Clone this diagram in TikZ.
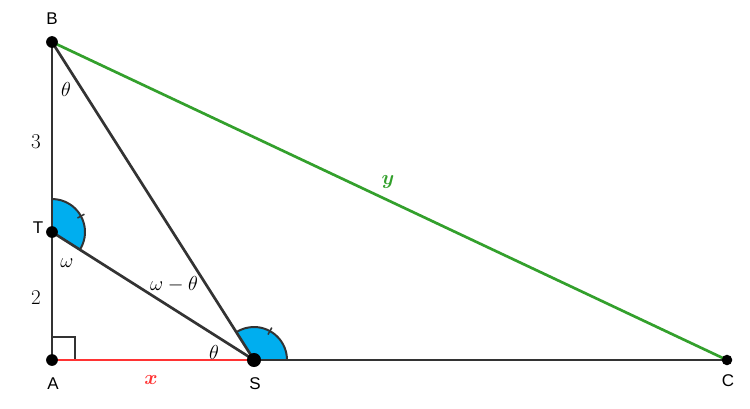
\documentclass[tikz,border=0pt]{standalone}
\usepackage{fontspec}
\newfontfamily\lab{Liberation Sans}
\usepackage{amsmath}
\definecolor{gline}{HTML}{333333}
\definecolor{ggreen}{HTML}{33A02C}
\definecolor{gred}{HTML}{FF3333}
\definecolor{gblue}{HTML}{00AEEF}
\begin{document}
\begin{tikzpicture}[x=0.03cm,y=-0.03cm,
  seg/.style={draw=gline,line width=2.3pt},
  dot/.style={circle,fill=black,inner sep=0pt,minimum size=10pt},
  ptlabel/.style={font=\lab\fontsize{14.5}{17}\selectfont,text=black},
  mlabel/.style={font=\fontsize{18}{20}\selectfont}]
\useasboundingbox (0,0) rectangle (750,408);
\coordinate (A) at (52,360);
\coordinate (T) at (52,232);
\coordinate (B) at (52,42);
\coordinate (S) at (254,360);
\coordinate (C) at (727,360);
% angle fills (y axis flipped: angles negated)
\fill[gblue] (T) -- ++(32.36:33) arc[start angle=32.36,end angle=-90,radius=33] -- cycle;
\draw[draw=gline,line width=1.7pt] (T) ++(32.36:33) arc[start angle=32.36,end angle=-90,radius=33];
\draw[draw=gline,line width=1.3pt] (T) ++(-28.8:29) -- ++(-28.8:8);
\fill[gblue] (S) -- ++(0:33) arc[start angle=0,end angle=-122.42,radius=33] -- cycle;
\draw[draw=gline,line width=1.7pt] (S) ++(0:33) arc[start angle=0,end angle=-122.42,radius=33];
\draw[draw=gline,line width=1.3pt] (S) ++(-61.2:29) -- ++(-61.2:8);
% right angle
\draw[draw=gline,line width=1.8pt] (52,337) -- (75,337) -- (75,360);
% segments
\draw[seg] (A) -- (B);
\draw[seg] (T) -- (S);
\draw[seg] (B) -- (S);
\draw[seg] (S) -- (C);
\draw[draw=ggreen,line width=2.3pt] (B) -- (C);
\draw[draw=gred,line width=2.3pt] (A) -- (S);
% points
\node[dot] (nA) at (A) {};
\node[dot] (nT) at (T) {};
\node[dot] (nB) at (B) {};
\node[dot,minimum size=12pt] (nS) at (S) {};
\node[dot,minimum size=9pt] (nC) at (C) {};
% point labels
\node[ptlabel] (lB) at (52,19) {B};
\node[ptlabel] (lT) at (38,228) {T};
\node[ptlabel] (lA) at (53,384) {A};
\node[ptlabel] (lS) at (255,384) {S};
\node[ptlabel] (lC) at (728,381) {C};
% measures
\node[mlabel] (l3) at (36,142) {3};
\node[mlabel] (l2) at (36,298) {2};
\node[mlabel] (th1) at (66,89) {$\theta$};
\node[mlabel] (om) at (67,263) {$\omega$};
\node[mlabel] (omth) at (174,284) {$\omega-\theta$};
\node[mlabel] (th2) at (214,352) {$\theta$};
\node[mlabel,text=gred] (lx) at (151,380) {$\boldsymbol{x}$};
\node[mlabel,text=ggreen] (ly) at (388,182) {$\boldsymbol{y}$};
\end{tikzpicture}
\end{document}
